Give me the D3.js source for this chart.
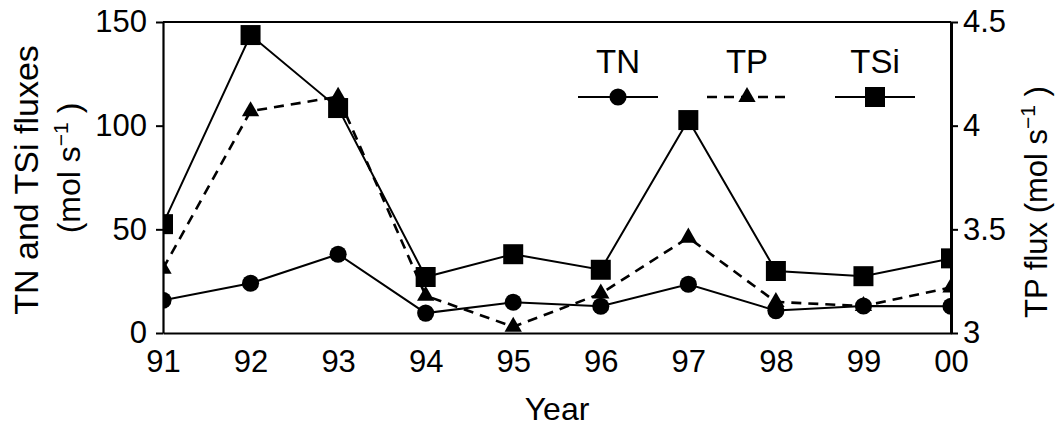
<!DOCTYPE html>
<html>
<head>
<meta charset="utf-8">
<script src="https://cdn.jsdelivr.net/npm/d3@7"></script>
<style>
  body { margin: 0; background: #fff; }
  text { font-family: "Liberation Sans", Arial, sans-serif; fill: #000; }
</style>
</head>
<body>
<svg id="chart" width="1059" height="432"></svg>
<script>
const years = ["91", "92", "93", "94", "95", "96", "97", "98", "99", "00"];
const tn = [15.8, 24, 38, 9.6, 14.8, 12.9, 23.5, 10.8, 13, 12.9];
const tsi = [52.5, 143.7, 108.5, 27, 38, 30.5, 102.7, 29.9, 27.4, 36];
const tp = [3.31, 4.07, 4.14, 3.18, 3.03, 3.19, 3.46, 3.15, 3.13, 3.22];
const leftTicks = [0, 50, 100, 150];
const rightTicks = [3, 3.5, 4, 4.5];
const rightTickLabels = ["3", "3.5", "4", "4.5"];

const svg = d3.select("#chart"),
  margin = { top: 22, right: 108, bottom: 99, left: 163 },
  width = +svg.attr("width") - margin.left - margin.right,
  height = +svg.attr("height") - margin.top - margin.bottom;

const chart = svg
  .append("g")
  .attr("transform", `translate(${margin.left},${margin.top})`);

const x = d3.scalePoint().domain(years).range([0, width]);
const yL = d3.scaleLinear().domain([0, 150]).range([height, 0]);
const yR = d3.scaleLinear().domain([3, 4.5]).range([height, 0]);

chart
  .append("clipPath")
  .attr("id", "plotclip")
  .append("rect")
  .attr("width", width)
  .attr("height", height);

// top frame line
chart.append("line").attr("x1", 0).attr("x2", width).attr("y1", 0).attr("y2", 0)
  .attr("stroke", "#000").attr("stroke-width", 2);

const xAxis = chart
  .append("g")
  .attr("transform", `translate(0,${height})`)
  .call(d3.axisBottom(x).tickSize(0).tickPadding(17));
xAxis.select(".domain").attr("stroke-width", 2);
xAxis.selectAll("text").style("font-size", "31px").attr("font-family", null);

const leftAxis = chart
  .append("g")
  .call(d3.axisLeft(yL).tickValues(leftTicks).tickSize(7).tickSizeOuter(0).tickPadding(9));
leftAxis.select(".domain").attr("stroke-width", 2.2);
leftAxis.selectAll(".tick line").attr("stroke-width", 2);
leftAxis.selectAll("text").style("font-size", "31px").attr("font-family", null);

const rightAxis = chart
  .append("g")
  .attr("transform", `translate(${width},0)`)
  .call(
    d3.axisRight(yR).tickValues(rightTicks).tickSize(7).tickSizeOuter(0).tickPadding(5)
      .tickFormat((d, i) => rightTickLabels[i])
  );
rightAxis.select(".domain").attr("stroke-width", 3);
rightAxis.selectAll(".tick line").attr("stroke-width", 2);
rightAxis.selectAll("text").style("font-size", "31px").attr("font-family", null);

// axis titles
chart
  .append("text")
  .attr("text-anchor", "middle")
  .attr("x", width / 2)
  .attr("y", height + 87)
  .style("font-size", "32px")
  .text("Year");

chart
  .append("text")
  .attr("text-anchor", "middle")
  .attr("transform", `translate(${38 - margin.left},${180 - margin.top}) rotate(-90)`)
  .style("font-size", "34px")
  .text("TN and TSi fluxes");

const lt2 = chart
  .append("text")
  .attr("text-anchor", "middle")
  .attr("transform", `translate(${80 - margin.left},${168 - margin.top}) rotate(-90)`)
  .style("font-size", "32px");
lt2.append("tspan").text("(mol s");
lt2.append("tspan").attr("dy", -12).style("font-size", "21px").text("−1");
lt2.append("tspan").attr("dy", 12).text(" )");

const rt = chart
  .append("text")
  .attr("text-anchor", "middle")
  .attr("transform", `translate(${1047 - margin.left},${202 - margin.top}) rotate(-90)`)
  .style("font-size", "31px");
rt.append("tspan").text("TP flux (mol s");
rt.append("tspan").attr("dy", -12).style("font-size", "21px").text("−1");
rt.append("tspan").attr("dy", 12).text(" )");

// series
const plot = chart.append("g").attr("clip-path", "url(#plotclip)");

const lineL = d3.line().x((d, i) => x(years[i])).y((d) => yL(d));
const lineR = d3.line().x((d, i) => x(years[i])).y((d) => yR(d));

const tri = d3.symbol().type(d3.symbolTriangle).size(130);
const circ = d3.symbol().type(d3.symbolCircle).size(230);
const sq = d3.symbol().type(d3.symbolSquare).size(400);

plot.append("path").datum(tn).attr("fill", "none").attr("stroke", "#000")
  .attr("stroke-width", 2).attr("d", lineL);
plot.append("path").datum(tp).attr("fill", "none").attr("stroke", "#000")
  .attr("stroke-width", 2.6).attr("stroke-dasharray", "10,7").attr("d", lineR);
plot.append("path").datum(tsi).attr("fill", "none").attr("stroke", "#000")
  .attr("stroke-width", 2).attr("d", lineL);

plot.selectAll(".tn").data(tn).join("path").attr("class", "tn")
  .attr("transform", (d, i) => `translate(${x(years[i])},${yL(d)})`)
  .attr("d", circ);
plot.selectAll(".tp").data(tp).join("path").attr("class", "tp")
  .attr("transform", (d, i) => `translate(${x(years[i])},${yR(d)})`)
  .attr("d", tri);
plot.selectAll(".tsi").data(tsi).join("path").attr("class", "tsi")
  .attr("transform", (d, i) => `translate(${x(years[i])},${yL(d)})`)
  .attr("d", sq);

// legend
const legend = [
  { name: "TN", cx: 618, sym: circ, dash: null, w: 2 },
  { name: "TP", cx: 747, sym: tri, dash: "10,7", w: 2.6 },
  { name: "TSi", cx: 875, sym: sq, dash: null, w: 2 },
];
const lg = svg.selectAll(".leg").data(legend).join("g").attr("class", "leg")
  .attr("transform", (d) => `translate(${d.cx},0)`);
lg.append("text").attr("text-anchor", "middle").attr("y", 73)
  .style("font-size", "33px").text((d) => d.name);
lg.append("line").attr("x1", -40).attr("x2", 40).attr("y1", 97).attr("y2", 97)
  .attr("stroke", "#000").attr("stroke-width", (d) => d.w)
  .attr("stroke-dasharray", (d) => d.dash);
lg.append("path").attr("transform", "translate(0,97)").attr("d", (d) => d.sym());
</script>
</body>
</html>
